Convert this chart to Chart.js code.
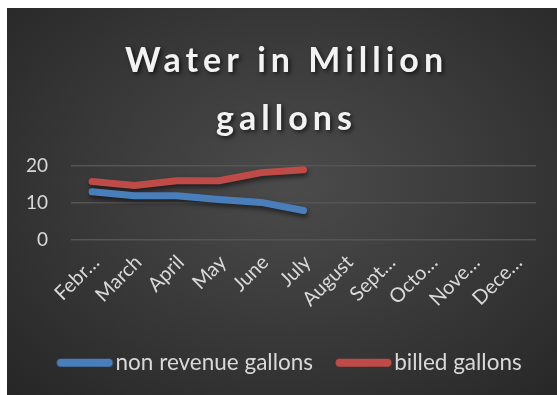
<!DOCTYPE html>
<html><head><meta charset="utf-8">
<script src="https://cdn.jsdelivr.net/npm/chart.js@4.4.0/dist/chart.umd.min.js"></script>
<style>
html,body{margin:0;padding:0;background:#fff;width:557px;height:395px;overflow:hidden}
#wrap{position:absolute;left:7px;top:8px;width:550px;height:387px;
background:radial-gradient(ellipse at 52% 45%, #4b4b4b 0%, #3b3b3b 45%, #262626 100%);}
canvas{display:block}
</style></head><body>
<div id="wrap"><canvas id="c" width="550" height="387"></canvas></div>
<script>
const categories = ["February","March","April","May","June","July","August","September","October","November","December"];
const tickLabels = ["Febr…","March","April","May","June","July","August","Sept…","Octo…","Nove…","Dece…"];
const nonRevenueGallons = [13.0, 11.9, 11.9, 10.9, 10.1, 7.9, null, null, null, null, null];
const billedGallons = [15.8, 14.7, 16.0, 16.0, 18.2, 19.0, null, null, null, null, null];
const yTicks = [0, 10, 20];
const titleLines = ["Water in Million", "gallons"];
const seriesNames = ["non revenue gallons", "billed gallons"];
const seriesColors = ['#4a7ebb', '#be4b48'];

// legend swatch: thick rounded line, shifted right so it sits close to its text
function swatch(color) {
  const c = document.createElement('canvas');
  c.width = 90; c.height = 12;
  const g = c.getContext('2d');
  g.strokeStyle = color; g.lineWidth = 8; g.lineCap = 'round';
  g.beginPath(); g.moveTo(29.5, 6); g.lineTo(77.5, 6); g.stroke();
  return c;
}

function wrapDraw(box, dx, setup) {
  if (!box || box._fxWrapped) return;
  const orig = box.draw.bind(box);
  box.draw = function(a) {
    const ctx = box.ctx;
    ctx.save();
    ctx.translate(dx, 0);
    if (setup) setup(ctx);
    orig(a);
    ctx.restore();
  };
  box._fxWrapped = true;
}

const fx = {
  id: 'fx',
  beforeDraw(chart) {
    wrapDraw(chart.titleBlock, 8, ctx => {
      ctx.letterSpacing = '5px';
      ctx.shadowColor = 'rgba(0,0,0,0.65)';
      ctx.shadowBlur = 4; ctx.shadowOffsetX = 2; ctx.shadowOffsetY = 2;
    });
    wrapDraw(chart.legend, 6.5, null);
  },
  beforeDatasetsDraw(chart) {
    const ctx = chart.ctx; ctx.save();
    ctx.shadowColor = 'rgba(0,0,0,0.55)'; ctx.shadowBlur = 5; ctx.shadowOffsetX = 1; ctx.shadowOffsetY = 3;
  },
  afterDatasetsDraw(chart) { chart.ctx.restore(); }
};

const txt = '#d9d9d9';
new Chart(document.getElementById('c'), {
  type: 'line',
  data: {
    labels: categories,
    datasets: [
      { label: seriesNames[0], data: nonRevenueGallons, borderColor: seriesColors[0], backgroundColor: seriesColors[0],
        borderWidth: 7, borderCapStyle: 'round', borderJoinStyle: 'round', pointRadius: 0, pointHoverRadius: 0, tension: 0,
        pointStyle: swatch(seriesColors[0]) },
      { label: seriesNames[1], data: billedGallons, borderColor: seriesColors[1], backgroundColor: seriesColors[1],
        borderWidth: 7, borderCapStyle: 'round', borderJoinStyle: 'round', pointRadius: 0, pointHoverRadius: 0, tension: 0,
        pointStyle: swatch(seriesColors[1]) }
    ]
  },
  options: {
    responsive: false,
    animation: false,
    devicePixelRatio: 1,
    layout: { padding: { left: 14, right: 21, top: 0, bottom: 11 } },
    plugins: {
      title: { display: true, text: titleLines, color: '#f2f2f2',
        font: { family: 'Lato', size: 34, weight: 'bold', lineHeight: 1.706 },
        padding: { top: 23.6, bottom: 18.4 } },
      legend: { position: 'bottom',
        labels: { usePointStyle: true, pointStyleWidth: 56, color: txt,
          font: { family: 'Lato', size: 22.5 }, padding: 14 } },
      tooltip: { enabled: false }
    },
    scales: {
      x: {
        type: 'category', offset: true,
        grid: { display: false }, border: { display: false },
        ticks: { autoSkip: false, maxRotation: 45, minRotation: 45, color: txt,
          font: { family: 'Lato', size: 20 }, padding: 3, labelOffset: 4,
          callback: (v, i) => tickLabels[i] },
        afterFit: s => { s.height = 98; }
      },
      y: {
        min: 0, max: 20,
        afterBuildTicks: s => { s.ticks = yTicks.map(v => ({ value: v })); },
        grid: { color: '#555555', lineWidth: 1.5, drawTicks: false }, border: { display: false },
        ticks: { color: txt, font: { family: 'Lato', size: 19 }, padding: 23 },
        afterFit: s => { s.width = 50; }
      }
    }
  },
  plugins: [fx]
});
</script>
</body></html>
